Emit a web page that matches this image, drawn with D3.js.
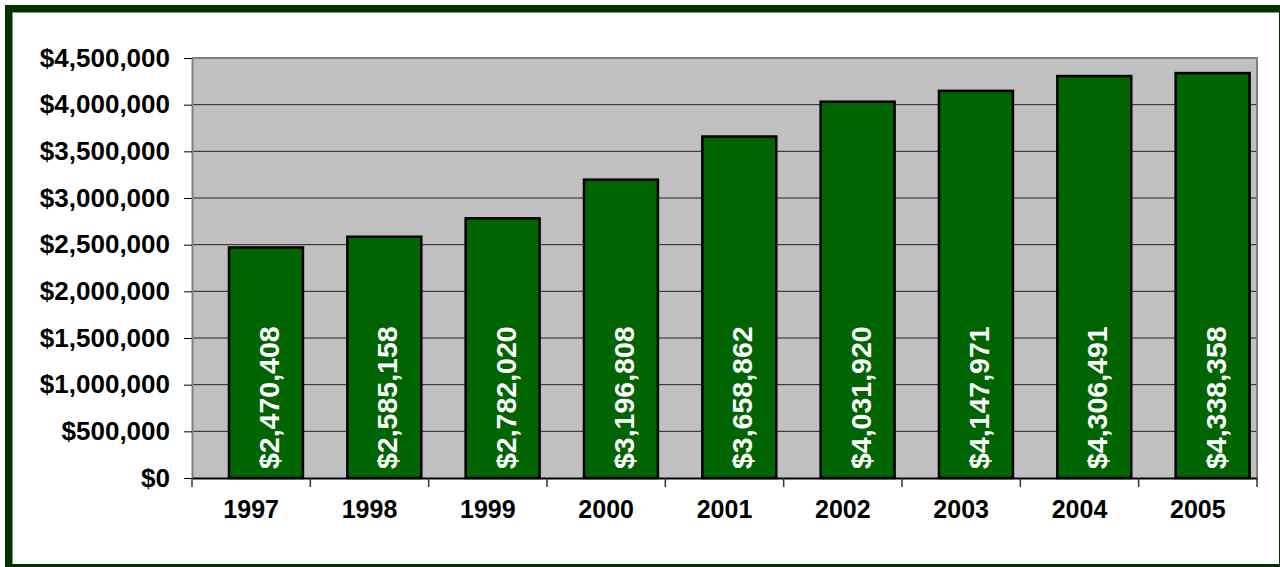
<!DOCTYPE html>
<html>
<head>
<meta charset="utf-8">
<script src="https://cdn.jsdelivr.net/npm/d3@7"></script>
<style>
  body { margin: 0; background: #fff; }
  text { font-family: "Liberation Sans", Arial, sans-serif; font-weight: bold; }
</style>
</head>
<body>
<div id="chart"></div>
<script>
// Data
const years = ["1997", "1998", "1999", "2000", "2001", "2002", "2003", "2004", "2005"];
const totals = [2470408, 2585158, 2782020, 3196808, 3658862, 4031920, 4147971, 4306491, 4338358];
const yTicks = [0, 500000, 1000000, 1500000, 2000000, 2500000, 3000000, 3500000, 4000000, 4500000];

const width = 1280;
const height = 567;
const margin = { top: 58, bottom: 89, left: 192, right: 23 };

const svg = d3.select("#chart")
  .append("svg")
  .attr("width", width)
  .attr("height", height);

// Outer dark green frame
svg.append("rect")
  .attr("x", 8.75)
  .attr("y", 8.75)
  .attr("width", 1274)
  .attr("height", 559)
  .attr("fill", "#fff")
  .attr("stroke", "#003300")
  .attr("stroke-width", 7.5);

const x = d3.scaleBand()
  .domain(years)
  .range([margin.left, width - margin.right])
  .padding(0);

const y = d3.scaleLinear()
  .domain([0, 4500000])
  .range([height - margin.bottom, margin.top]);

// Plot area background
svg.append("rect")
  .attr("x", margin.left)
  .attr("y", margin.top)
  .attr("width", width - margin.right - margin.left)
  .attr("height", y(0) - margin.top)
  .attr("fill", "#c0c0c0");

// Horizontal grid lines
svg.selectAll(".grid")
  .data(yTicks.filter(d => d > 0 && d < 4500000))
  .enter()
  .append("line")
  .attr("class", "grid")
  .attr("x1", margin.left)
  .attr("x2", width - margin.right)
  .attr("y1", d => y(d))
  .attr("y2", d => y(d))
  .attr("stroke", "#222")
  .attr("stroke-width", 1);

// Plot border (top + right)
svg.append("path")
  .attr("d", `M${margin.left},${margin.top}H${width - margin.right}V${y(0)}`)
  .attr("fill", "none")
  .attr("stroke", "#808080")
  .attr("stroke-width", 2);

const bw = x.bandwidth();

// Bars
svg.selectAll("rect.bar")
  .data(totals)
  .enter()
  .append("rect")
  .attr("class", "bar")
  .attr("x", (d, i) => x(years[i]) + bw * 0.3125)
  .attr("width", bw * 0.625)
  .attr("y", d => y(d))
  .attr("height", d => y(0) - y(d))
  .attr("fill", "#006400")
  .attr("stroke", "#000")
  .attr("stroke-width", 2.5);

// Value labels inside the bars, rotated
svg.selectAll("text.val")
  .data(totals)
  .enter()
  .append("text")
  .attr("class", "val")
  .attr("transform", (d, i) => `translate(${x(years[i]) + bw * 0.625 + 3},${y(0) - 9}) rotate(-90)`)
  .attr("dominant-baseline", "central")
  .attr("text-anchor", "start")
  .attr("fill", "#fff")
  .attr("font-size", "28.5px")
  .text(d => d3.format("$,")(d));

// Y axis
const yAxis = svg.append("g")
  .attr("transform", `translate(${margin.left},0)`)
  .call(d3.axisLeft(y).tickValues(yTicks).tickSize(8).tickSizeOuter(0).tickFormat(d3.format("$,")));
yAxis.select(".domain").attr("stroke", "#808080").attr("stroke-width", 2);
yAxis.selectAll(".tick line").attr("stroke", "#000");
yAxis.selectAll(".tick text")
  .attr("x", -22)
  .attr("font-size", "26px")
  .attr("fill", "#000");

// X axis
const xAxis = svg.append("g")
  .attr("transform", `translate(0,${y(0)})`)
  .call(d3.axisBottom(x).tickSize(0).tickSizeOuter(0));
xAxis.select(".domain").attr("stroke", "#000").attr("stroke-width", 2);
xAxis.selectAll(".tick text")
  .attr("y", 31)
  .attr("dy", "0.35em")
  .attr("font-size", "25px")
  .attr("fill", "#000");

// Category boundary ticks
svg.selectAll(".xtick")
  .data(years.concat(["end"]))
  .enter()
  .append("line")
  .attr("class", "xtick")
  .attr("x1", (d, i) => margin.left + i * bw)
  .attr("x2", (d, i) => margin.left + i * bw)
  .attr("y1", y(0))
  .attr("y2", y(0) + 9)
  .attr("stroke", "#333")
  .attr("stroke-width", 1.5);
</script>
</body>
</html>
